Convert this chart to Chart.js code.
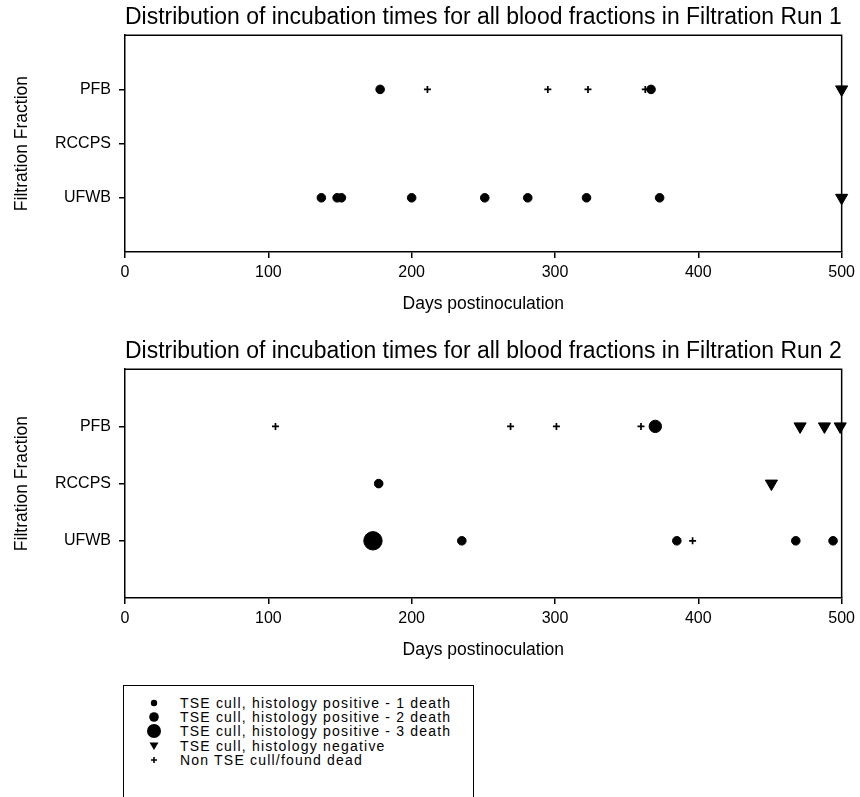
<!DOCTYPE html>
<html>
<head>
<meta charset="utf-8">
<title>Incubation times by filtration fraction</title>
<script src="https://cdn.jsdelivr.net/npm/chart.js@4.4.1/dist/chart.umd.min.js"></script>
<style>
  html, body { margin: 0; padding: 0; background: #fff; width: 860px; height: 797px; overflow: hidden; }
  #wrap { position: relative; width: 860px; height: 797px; font-family: 'Liberation Sans', Arial, sans-serif; color: #000; }
  canvas { position: absolute; left: 0; }
  #run1 { top: 0; }
  #run2 { top: 330px; }
  #legend { position: absolute; left: 123px; top: 685px; width: 349px; height: 130px;
            border: 1.5px solid #000; border-bottom: none; }
  .row { position: absolute; left: 0; width: 100%; height: 14px; }
  .row svg { position: absolute; left: 20px; top: -3px; }
  .row span { position: absolute; left: 56px; top: 0; line-height: 14px; font-size: 14px;
              letter-spacing: 1.2px; white-space: nowrap; }
</style>
</head>
<body>
<div id="wrap">
  <canvas id="run1" width="860" height="330"></canvas>
  <canvas id="run2" width="860" height="340"></canvas>
  <div id="legend">
    <div class="row" style="top:10px"><svg width="20" height="20"><circle cx="10" cy="10" r="3.2" fill="#000"/></svg><span>TSE cull, histology positive - 1 death</span></div>
    <div class="row" style="top:24px"><svg width="20" height="20"><circle cx="10" cy="10" r="4.8" fill="#000"/></svg><span>TSE cull, histology positive - 2 death</span></div>
    <div class="row" style="top:38px"><svg width="20" height="20"><circle cx="10" cy="10" r="7" fill="#000"/></svg><span>TSE cull, histology positive - 3 death</span></div>
    <div class="row" style="top:53px"><svg width="20" height="20"><polygon points="5.5,6.5 14.5,6.5 10,14" fill="#000"/></svg><span>TSE cull, histology negative</span></div>
    <div class="row" style="top:67px"><svg width="20" height="20"><path d="M7,10 H13 M10,7 V13" stroke="#000" stroke-width="1.6"/></svg><span>Non TSE cull/found dead</span></div>
  </div>
</div>
<script>
  // y positions 1..3, bottom to top
  const fractions = ['UFWB', 'RCCPS', 'PFB'];
  const dayTicks = [0, 100, 200, 300, 400, 500];

  // Filtration Run 1, [days, fraction]
  const run1Pos1 = [[178, 'PFB'], [367, 'PFB'], [137, 'UFWB'], [148, 'UFWB'], [151, 'UFWB'],
                    [200, 'UFWB'], [251, 'UFWB'], [281, 'UFWB'], [322, 'UFWB'], [373, 'UFWB']];
  const run1Pos2 = [];
  const run1Pos3 = [];
  const run1Neg = [[500, 'PFB'], [500, 'UFWB']];
  const run1NonTse = [[211, 'PFB'], [295, 'PFB'], [323, 'PFB'], [363, 'PFB']];

  // Filtration Run 2
  const run2Pos1 = [[177, 'RCCPS'], [235, 'UFWB'], [385, 'UFWB'], [468, 'UFWB'], [494, 'UFWB']];
  const run2Pos2 = [[370, 'PFB']];
  const run2Pos3 = [[173, 'UFWB']];
  const run2Neg = [[471, 'PFB'], [488, 'PFB'], [499, 'PFB'], [451, 'RCCPS']];
  const run2NonTse = [[105, 'PFB'], [269, 'PFB'], [301, 'PFB'], [360, 'PFB'], [396, 'UFWB']];

  const FONT = "'Liberation Sans', Arial, sans-serif";
  Chart.defaults.font.family = FONT;
  Chart.defaults.color = '#000';

  function toPoints(list) {
    return list.map(function (p) { return { x: p[0], y: fractions.indexOf(p[1]) + 1 }; });
  }

  // top and right edges of the plot box
  const frameBox = {
    id: 'frameBox',
    beforeDatasetsDraw(chart) {
      const { ctx, chartArea: a } = chart;
      ctx.save();
      ctx.strokeStyle = '#000';
      ctx.lineWidth = 1.5;
      ctx.beginPath();
      ctx.moveTo(a.left, a.top);
      ctx.lineTo(a.right, a.top);
      ctx.lineTo(a.right, a.bottom);
      ctx.stroke();
      ctx.restore();
    }
  };

  function makeChart(id, title, pos1, pos2, pos3, neg, nonTse, g) {
    const dot = { showLine: false, clip: false, backgroundColor: '#000', borderColor: '#000', borderWidth: 1, pointStyle: 'circle' };
    const axisGrid = { drawOnChartArea: false, drawTicks: true, tickLength: 6, color: '#000', lineWidth: 1.5 };
    const axisBorder = { display: true, color: '#000', width: 1.5 };

    new Chart(document.getElementById(id), {
      type: 'scatter',
      data: {
        datasets: [
          Object.assign({ label: '1 death', data: toPoints(pos1), pointRadius: 4.3 }, dot),
          Object.assign({ label: '2 death', data: toPoints(pos2), pointRadius: 6.2 }, dot),
          Object.assign({ label: '3 death', data: toPoints(pos3), pointRadius: 9.2 }, dot),
          { label: 'negative', data: toPoints(neg), showLine: false, clip: false, pointStyle: 'triangle', rotation: 180,
            pointRadius: 7, backgroundColor: '#000', borderColor: '#000', borderWidth: 1 },
          { label: 'non TSE', data: toPoints(nonTse), showLine: false, clip: false, pointStyle: 'cross',
            pointRadius: 3.5, borderColor: '#000', borderWidth: 1.7 }
        ]
      },
      options: {
        responsive: false,
        animation: false,
        events: [],
        layout: { padding: { top: 0, right: g.padRight, bottom: g.padBottom, left: 0 } },
        plugins: {
          legend: { display: false },
          tooltip: { enabled: false },
          title: {
            display: true, text: title, fullSize: false, color: '#000',
            font: { family: FONT, size: 23, weight: 'normal' },
            padding: { top: g.titleTop, bottom: g.titleBottom }
          }
        },
        scales: {
          x: {
            type: 'linear', min: 0, max: 500,
            afterBuildTicks: function (s) { s.ticks = dayTicks.map(function (v) { return { value: v }; }); },
            afterFit: function (s) { s.height = g.xHeight; },
            grid: axisGrid, border: axisBorder,
            ticks: { color: '#000', font: { size: 16 }, padding: 5, maxRotation: 0 },
            title: { display: true, text: 'Days postinoculation', color: '#000', font: { size: 17.5 }, padding: { top: 0, bottom: 0 } }
          },
          y: {
            type: 'linear', min: 0, max: 4,
            afterBuildTicks: function (s) { s.ticks = [1, 2, 3].map(function (v) { return { value: v }; }); },
            afterFit: function (s) { s.width = 125; },
            grid: axisGrid, border: axisBorder,
            ticks: { color: '#000', font: { size: 16 }, padding: 8, callback: function (v) { return fractions[v - 1]; } },
            title: { display: true, text: 'Filtration Fraction', color: '#000', font: { size: 17.5 }, padding: { top: 12, bottom: 0 } }
          }
        }
      },
      plugins: [frameBox]
    });
  }

  makeChart('run1', 'Distribution of incubation times for all blood fractions in Filtration Run 1',
    run1Pos1, run1Pos2, run1Pos3, run1Neg, run1NonTse,
    { padRight: 17, padBottom: 15, xHeight: 63, titleTop: 4, titleBottom: 3.6 });

  makeChart('run2', 'Distribution of incubation times for all blood fractions in Filtration Run 2',
    run2Pos1, run2Pos2, run2Pos3, run2Neg, run2NonTse,
    { padRight: 16, padBottom: 9, xHeight: 63, titleTop: 7.8, titleBottom: 3.8 });
</script>
</body>
</html>
